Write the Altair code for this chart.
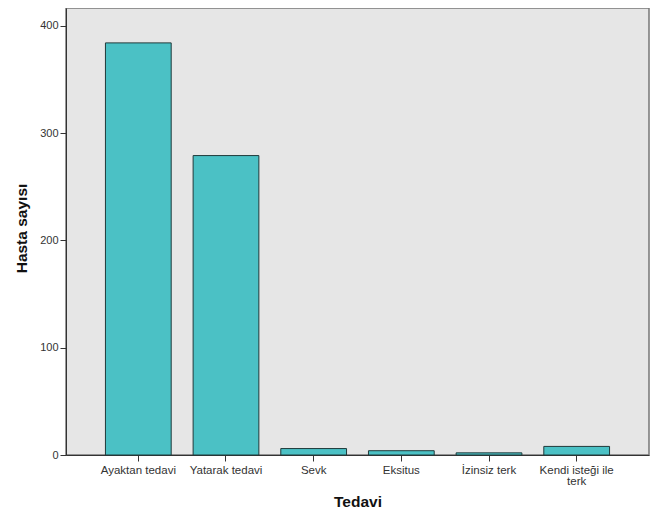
import altair as alt
import pandas as pd

categories = ["Ayaktan tedavi", "Yatarak tedavi", "Sevk", "Eksitus", "İzinsiz terk", "Kendi isteği ile terk"]
counts = [384, 279, 6, 4, 2, 8]

df = pd.DataFrame({"Tedavi": categories, "Hasta": counts})

label_expr = "datum.label == 'Kendi isteği ile terk' ? ['Kendi isteği ile', 'terk'] : datum.label"

chart = alt.Chart(df).mark_bar(
    color="#4BC1C5", stroke="#1F3A3A", strokeWidth=1
).encode(
    x=alt.X("Tedavi:N", sort=categories,
            scale=alt.Scale(paddingInner=0.25, paddingOuter=0.45),
            axis=alt.Axis(title="Tedavi", labelAngle=0, labelExpr=label_expr,
                          labelFont="Liberation Sans", labelFontSize=11.5, labelColor="#333333",
                          labelLineHeight=11, labelPadding=3,
                          tickSize=6, tickColor="#333333", domainColor="#333333",
                          titleFont="Liberation Sans", titleFontSize=15.5, titleFontWeight="bold",
                          titleColor="#111111", titleY=54, titleBaseline="bottom")),
    y=alt.Y("Hasta:Q",
            scale=alt.Scale(domain=[0, 416.5], nice=False, zero=True),
            axis=alt.Axis(title="Hasta sayısı", values=[0, 100, 200, 300, 400], grid=False,
                          labelFont="Liberation Sans", labelFontSize=11, labelColor="#333333",
                          labelPadding=2, tickSize=6, tickColor="#333333", domainColor="#333333",
                          titleFont="Liberation Sans", titleFontSize=15.5, titleFontWeight="bold",
                          titleColor="#111111", titleX=-45, titleY=220, titleAngle=-90,
                          titleBaseline="middle")),
).properties(
    width=583, height=447,
    autosize=alt.AutoSizeParams(type="none"),
    padding={"left": 58, "top": 0, "right": 1, "bottom": 56},
    background="white",
).configure_view(
    fill="#E6E6E6", stroke="#777777", strokeWidth=1.5
)

chart.save("out.html", embed_options={"renderer": "svg", "actions": False})
